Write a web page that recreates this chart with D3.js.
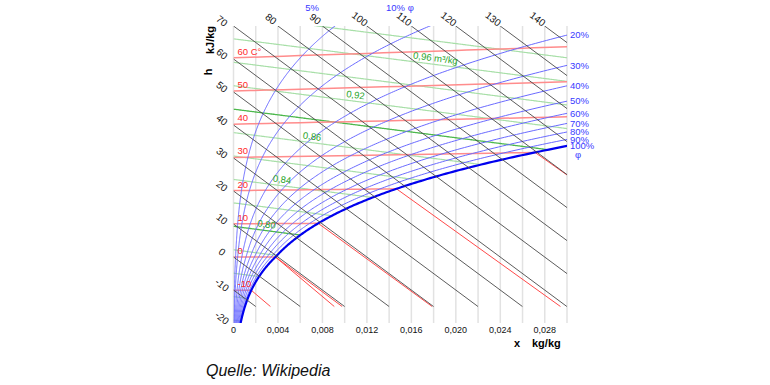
<!DOCTYPE html>
<html><head><meta charset="utf-8">
<script src="https://cdn.jsdelivr.net/npm/d3@7"></script>
<style>body{margin:0;background:#fff}svg{display:block;font-family:"Liberation Sans",Arial,sans-serif}</style>
</head><body><svg width="770" height="385"></svg>
<script>
// ---- chart values ----
const xTicks = [0, 0.004, 0.008, 0.012, 0.016, 0.020, 0.024, 0.028];
const xGrid = [0, 0.002, 0.004, 0.006, 0.008, 0.010, 0.012, 0.014, 0.016, 0.018, 0.020, 0.022, 0.024, 0.026, 0.028, 0.030];
const hTicks = [-20, -10, 0, 10, 20, 30, 40, 50, 60, 70];
const hTopTicks = [80, 90, 100, 110, 120, 130, 140];
const enthalpyLevels = [-10, 0, 10, 20, 30, 40, 50, 60, 70, 80, 90, 100, 110, 120, 130, 140];
const temperatureLevels = [-10, 0, 10, 20, 30, 40, 50, 60];
const temperatureLabels = ["-10", "0", "10", "20", "30", "40", "50", "60 C°"];
const humidityLevels = [0.05, 0.1, 0.2, 0.3, 0.4, 0.5, 0.6, 0.7, 0.8, 0.9, 1.0];
const humidityTopLabels = [{phi: 0.05, text: "5%"}, {phi: 0.1, text: "10% φ"}];
const humidityRightLabels = [{phi: 0.2, text: "20%"}, {phi: 0.3, text: "30%"}, {phi: 0.4, text: "40%"}, {phi: 0.5, text: "50%"}, {phi: 0.6, text: "60%"}, {phi: 0.7, text: "70%"}, {phi: 0.8, text: "80%"}, {phi: 0.9, text: "90%"}, {phi: 1.0, text: "100%"}];
const volumeLevels = [0.72, 0.74, 0.76, 0.78, 0.80, 0.82, 0.84, 0.86, 0.88, 0.90, 0.92, 0.94, 0.96, 0.98];
const volumeMajor = [0.80, 0.90];
const volumeLabels = [{text: "0,80", v: 0.80, x: 0.0029}, {text: "0,84", v: 0.84, x: 0.0043}, {text: "0,86", v: 0.88, x: 0.0070}, {text: "0,92", v: 0.92, x: 0.0109}, {text: "0,96 m³/kg", v: 0.96, x: 0.0181}];

// ---- psychrometrics (Mollier h-x chart, p = 101325 Pa) ----
const P = 101325;
const psW = t => 611.2 * Math.exp(17.62 * t / (243.12 + t));
const psI = t => 611.2 * Math.exp(22.46 * t / (272.62 + t));
const ps = t => t >= 0 ? psW(t) : psI(t);
const xOf = (t, phi) => { const pv = phi * ps(t); return 0.622 * pv / (P - pv); };
const hOf = (t, x) => 1.006 * t + x * (2501 + 1.86 * t);
const skew = (h, x) => h - 2501 * x;   // vertical chart coordinate

const svg = d3.select("svg");
const xS = d3.scaleLinear().domain([0, 0.030]).range([233.5, 567]);
const yS = d3.scaleLinear().domain([-20, 70]).range([323, 26]);
const line = d3.line().x(d => xS(d[0])).y(d => yS(d[1]));

svg.append("clipPath").attr("id", "plot").append("rect")
  .attr("x", xS(0)).attr("y", yS(70)).attr("width", xS(0.03) - xS(0)).attr("height", yS(-20) - yS(70));

// grid
svg.append("g").selectAll("line").data(xGrid).join("line")
  .attr("x1", d => xS(d)).attr("x2", d => xS(d)).attr("y1", yS(70)).attr("y2", yS(-20))
  .attr("stroke", "#e2e2e2").attr("stroke-width", 1.5);

const plot = svg.append("g").attr("clip-path", "url(#plot)");

// volume lines
function volumeCurve(v) {
  const pts = [];
  for (let x = 0; x <= 0.0301; x += 0.0001) {
    const t = v * P / (287.05 * (1 + 1.608 * x)) - 273.15;
    if (x > xOf(t, 1)) break;
    pts.push([x, skew(hOf(t, x), x)]);
  }
  return pts;
}
plot.append("g").selectAll("path").data(volumeLevels).join("path")
  .attr("d", v => line(volumeCurve(v))).attr("fill", "none")
  .attr("stroke", v => volumeMajor.includes(v) ? "#4db84d" : "#a8dfa8")
  .attr("stroke-width", v => volumeMajor.includes(v) ? 1.3 : 1.2);

// isotherms (unsaturated)
function isoCurve(t) {
  const xs = Math.min(xOf(t, 1), 0.030);
  const pts = [];
  for (let i = 0; i <= 20; i++) { const x = xs * i / 20; pts.push([x, skew(hOf(t, x), x)]); }
  return pts;
}
plot.append("g").selectAll("path").data(temperatureLevels).join("path")
  .attr("d", t => line(isoCurve(t))).attr("fill", "none")
  .attr("stroke", "#ff8c8c").attr("stroke-width", 1.5);

// isotherms in fog region
const fog = [];
temperatureLevels.forEach(t => {
  const xs = xOf(t, 1);
  if (xs >= 0.030) return;
  const hs = hOf(t, xs);
  const slopes = t > 0 ? [4.19 * t] : t < 0 ? [2.05 * t - 333.4] : [0, -333.4];
  slopes.forEach(s => {
    const xe = Math.min(0.030, (hs - s * xs + 15) / (2501 - s));
    fog.push([[xs, skew(hs, xs)], [xe, skew(hs + s * (xe - xs), xe)]]);
  });
});
plot.append("g").selectAll("path").data(fog).join("path")
  .attr("d", line).attr("fill", "none").attr("stroke", "#ff4a4a").attr("stroke-width", 1);

// relative humidity curves
function rhCurve(phi) {
  const pts = [];
  for (let t = -20; t <= 90; t += 0.25) {
    const x = xOf(t, phi), Y = skew(hOf(t, x), x);
    pts.push([x, Y]);
    if (Y > 71 || x > 0.031) break;
  }
  return pts;
}
const rhData = humidityLevels.map(phi => ({phi, pts: rhCurve(phi)}));
plot.append("g").selectAll("path").data(rhData).join("path")
  .attr("d", d => line(d.pts)).attr("fill", "none")
  .attr("stroke", d => d.phi === 1 ? "#0000ee" : "#6a6aff")
  .attr("stroke-width", d => d.phi === 1 ? 2.2 : 1);

// enthalpy lines
const hLines = enthalpyLevels.map(h => {
  const x0 = Math.max(0, (h - 70) / 2501), x1 = Math.min(0.030, (h + 15) / 2501);
  return [[x0, skew(h, x0)], [x1, skew(h, x1)]];
});
plot.append("g").selectAll("path").data(hLines).join("path")
  .attr("d", line).attr("fill", "none").attr("stroke", "#4a4a4a").attr("stroke-width", 0.9);

// ---- labels ----
const ang = 38;
svg.append("g").selectAll("text").data(hTicks).join("text")
  .attr("transform", h => `translate(222,${yS(h) - 5}) rotate(${ang})`)
  .attr("text-anchor", "middle").attr("dy", "0.35em").attr("font-size", 10).attr("fill", "#111").text(d => d);
svg.append("g").selectAll("text").data(hTopTicks).join("text")
  .attr("transform", h => `translate(${xS((h - 70) / 2501) - 7},19) rotate(${ang})`)
  .attr("text-anchor", "middle").attr("dy", "0.35em").attr("font-size", 10).attr("fill", "#111").text(d => d);

svg.append("g").selectAll("text").data(xTicks).join("text")
  .attr("x", d => xS(d)).attr("y", 333).attr("text-anchor", "middle").attr("font-size", 9).attr("fill", "#111")
  .text(d => d === 0 ? "0" : d3.format(".3f")(d).replace(".", ","));

// isotherm labels
svg.append("g").selectAll("text").data(temperatureLevels).join("text")
  .attr("x", xS(0) + 4).attr("y", t => yS(skew(hOf(t, 0), 0)) - 3)
  .attr("font-size", 9.5).attr("fill", "#ff2a2a").text((t, i) => temperatureLabels[i]);

// volume labels
svg.append("g").selectAll("text").data(volumeLabels).join("text")
  .attr("transform", d => {
    const pts = volumeCurve(d.v);
    const yAt = x => { const t = d.v * P / (287.05 * (1 + 1.608 * x)) - 273.15; return skew(hOf(t, x), x); };
    const px = xS(d.x), py = yS(yAt(d.x));
    const a = Math.atan2(yS(yAt(d.x + 0.001)) - py, xS(d.x + 0.001) - px) * 180 / Math.PI;
    return `translate(${px},${py}) rotate(${a})`;
  })
  .attr("y", -3).attr("text-anchor", "middle").attr("font-size", 9.5).attr("fill", "#2aa52a").text(d => d.text);

// humidity labels
function crossTop(pts) {
  for (let i = 1; i < pts.length; i++) if (pts[i][1] >= 70) {
    const [a, b] = [pts[i - 1], pts[i]]; const f = (70 - a[1]) / (b[1] - a[1]);
    return a[0] + f * (b[0] - a[0]);
  }
  return 0.03;
}
function crossRight(pts) {
  for (let i = 1; i < pts.length; i++) if (pts[i][0] >= 0.03) {
    const [a, b] = [pts[i - 1], pts[i]]; const f = (0.03 - a[0]) / (b[0] - a[0]);
    return a[1] + f * (b[1] - a[1]);
  }
  return 70;
}
svg.append("g").selectAll("text").data(humidityTopLabels).join("text")
  .attr("x", d => xS(crossTop(rhCurve(d.phi))) - 16).attr("y", 11).attr("text-anchor", "end")
  .attr("font-size", 9.5).attr("fill", "#3a3aff").text(d => d.text);
const rl = svg.append("g").selectAll("text").data(humidityRightLabels).join("text")
  .attr("x", 570).attr("y", d => yS(crossRight(rhCurve(d.phi)))).attr("dy", "0.35em")
  .attr("font-size", 9.5).attr("fill", "#3a3aff").text(d => d.text);
svg.append("text").attr("x", 578).attr("y", yS(crossRight(rhCurve(1))) + 9).attr("dy", "0.35em")
  .attr("text-anchor", "middle").attr("font-size", 9.5).attr("fill", "#3a3aff").text("φ");

// axis titles
svg.append("text").attr("transform", "translate(212,72) rotate(-90)").attr("font-size", 11)
  .attr("font-weight", "bold").attr("text-anchor", "middle").text("h");
svg.append("text").attr("transform", "translate(214,40) rotate(-90)").attr("font-size", 11)
  .attr("font-weight", "bold").attr("text-anchor", "middle").text("kJ/kg");
svg.append("text").attr("x", 514).attr("y", 347).attr("font-size", 11).attr("font-weight", "bold").text("x");
svg.append("text").attr("x", 532).attr("y", 347).attr("font-size", 11).attr("font-weight", "bold").text("kg/kg");

svg.append("text").attr("x", 206).attr("y", 376).attr("font-size", 16).attr("font-style", "italic")
  .attr("fill", "#111").text("Quelle: Wikipedia");
</script></body></html>
